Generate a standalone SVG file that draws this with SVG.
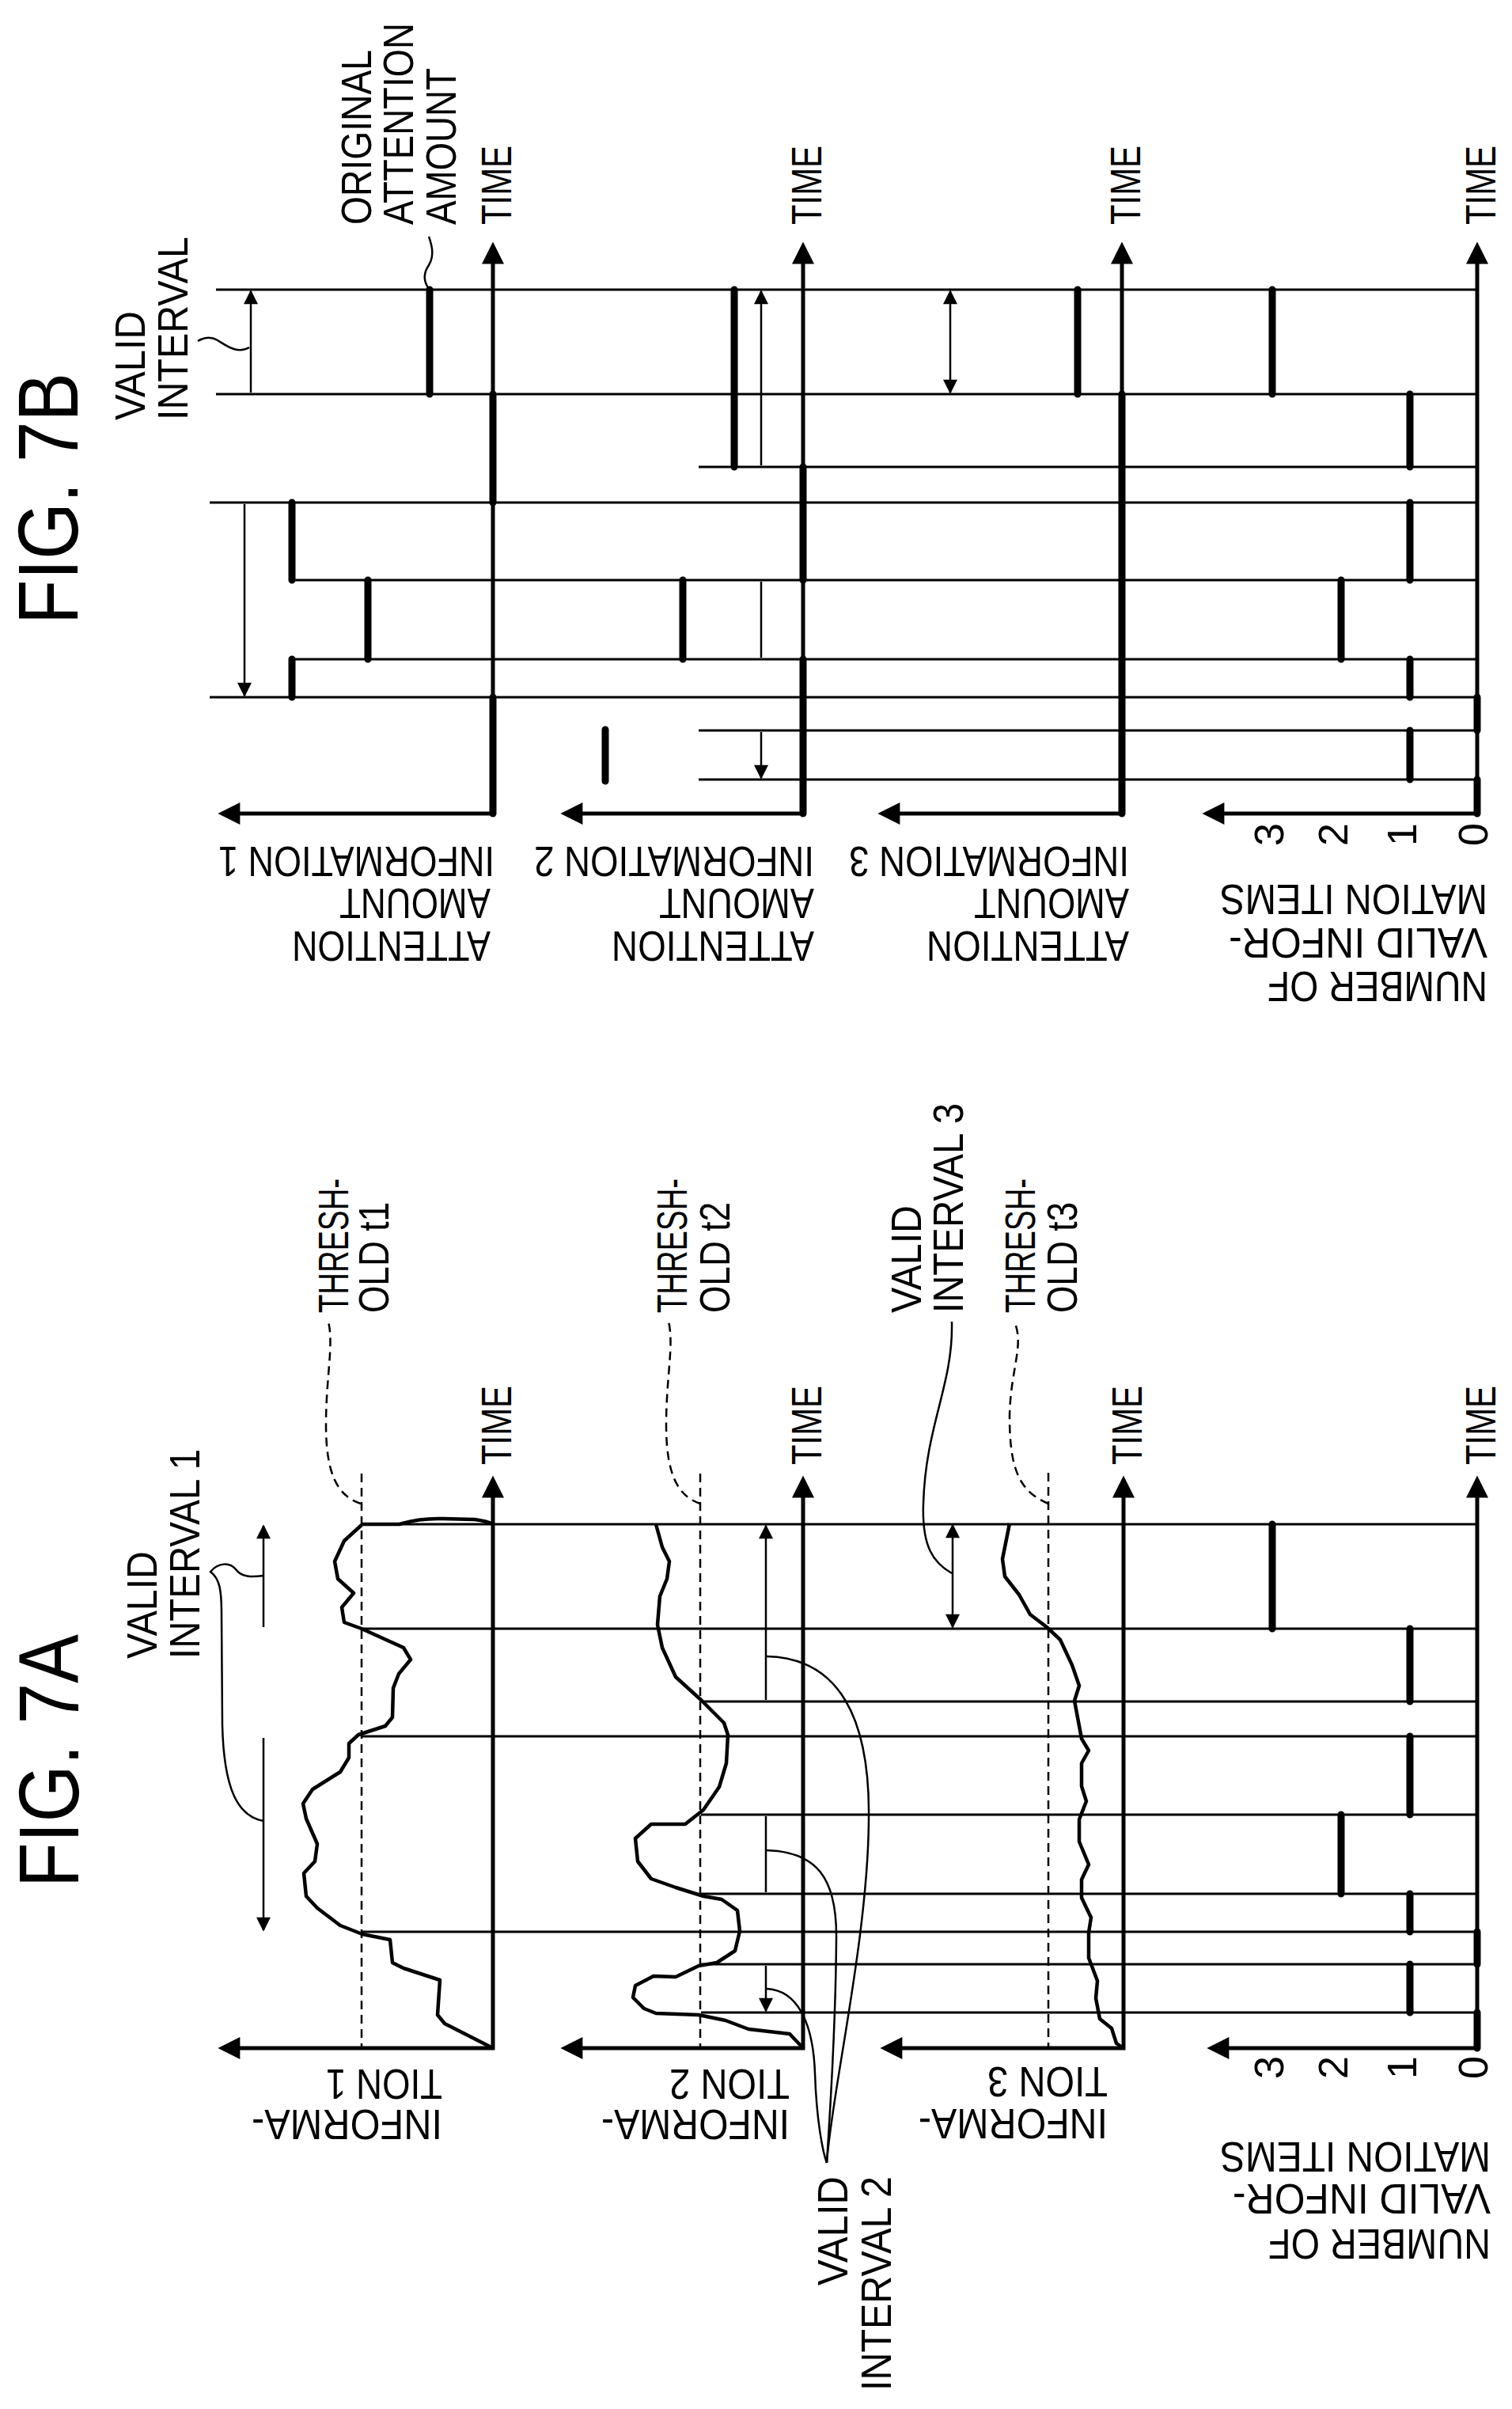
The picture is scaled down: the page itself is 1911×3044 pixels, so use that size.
<svg xmlns="http://www.w3.org/2000/svg" width="1911" height="3044" viewBox="0 0 1911 3044">
<style>
text{font-family:"Liberation Sans",Arial,sans-serif;font-size:54px;fill:#000}
.fig{font-size:108px}
.num{font-size:52px}
.ln{stroke:#000;stroke-width:3;fill:none}
.ax{stroke:#000;stroke-width:5;fill:none;marker-start:url(#big);marker-end:url(#big)}
.bar{stroke:#000;stroke-width:9;stroke-linecap:round;fill:none}
.cv{stroke:#000;stroke-width:4.5;fill:none;stroke-linejoin:round}
.da{stroke:#000;stroke-width:2.5;fill:none;marker-start:url(#sm);marker-end:url(#sm)}
.ld{stroke:#000;stroke-width:2.5;fill:none}
.dl{stroke:#000;stroke-width:2.5;fill:none;stroke-dasharray:11 7}
</style>
<defs>
<marker id="big" viewBox="0 0 10 10" refX="8" refY="5" markerWidth="32" markerHeight="28" markerUnits="userSpaceOnUse" orient="auto-start-reverse"><path d="M0,0 L10,5 L0,10 z"/></marker>
<marker id="sm" viewBox="0 0 10 10" refX="9" refY="5" markerWidth="22" markerHeight="18" markerUnits="userSpaceOnUse" orient="auto-start-reverse"><path d="M0,0 L10,5 L0,10 z"/></marker>
</defs>
<rect width="1911" height="3044" fill="#fff"/>

<g id="fig7b">
<text class="fig" transform="translate(98,789) rotate(-90)" textLength="318" lengthAdjust="spacingAndGlyphs">FIG. 7B</text>
<g id="b-labels">
<text transform="translate(183,531) rotate(-90)" textLength="138" lengthAdjust="spacingAndGlyphs">VALID</text>
<text transform="translate(237,531) rotate(-90)" textLength="232" lengthAdjust="spacingAndGlyphs">INTERVAL</text>
<text transform="translate(469,284) rotate(-90)" textLength="221" lengthAdjust="spacingAndGlyphs">ORIGINAL</text>
<text transform="translate(522,284) rotate(-90)" textLength="255" lengthAdjust="spacingAndGlyphs">ATTENTION</text>
<text transform="translate(576,284) rotate(-90)" textLength="198" lengthAdjust="spacingAndGlyphs">AMOUNT</text>
<path class="ld" d="M315,439 C300,448 285,436 275,430 C265,424 255,428 250,431"/>
<path class="ld" d="M542,365 C535,355 535,345 542,335 C550,322 545,308 542,299"/>
</g>
<g id="b-connectors">
<path class="ln" d="M273,366H1867M273,498H1867M883,590H1867M265,635H1867M369,733H1867M369,833H1867M265,881H1867M883,923H1867M883,985H1867"/>
</g>
<g id="b-info1">
<path class="ax" d="M281,1028H623V311"/>
<text transform="translate(646,284) rotate(-90)" textLength="100" lengthAdjust="spacingAndGlyphs">TIME</text>
<path class="bar" d="M543,366V498M369,635V733M465,733V833M369,833V881M623,498V635M623,881V1028"/>
<path class="da" d="M317,368V496M309,637V879"/>
<text transform="translate(620,1177) rotate(180)" textLength="251" lengthAdjust="spacingAndGlyphs">ATTENTION</text>
<text transform="translate(620,1123) rotate(180)" textLength="191" lengthAdjust="spacingAndGlyphs">AMOUNT</text>
<text transform="translate(625,1070) rotate(180)" textLength="349" lengthAdjust="spacingAndGlyphs">INFORMATION 1</text>
</g>
<g id="b-info2">
<path class="ax" d="M714,1028H1015V311"/>
<text transform="translate(1038,284) rotate(-90)" textLength="100" lengthAdjust="spacingAndGlyphs">TIME</text>
<path class="bar" d="M928,366V590M863,733V833M765,922V987M1015,590V733M1015,833V1028"/>
<path class="da" d="M962,368V588M962,735V831M962,925V983"/>
<text transform="translate(1029,1177) rotate(180)" textLength="256" lengthAdjust="spacingAndGlyphs">ATTENTION</text>
<text transform="translate(1029,1123) rotate(180)" textLength="196" lengthAdjust="spacingAndGlyphs">AMOUNT</text>
<text transform="translate(1029,1070) rotate(180)" textLength="354" lengthAdjust="spacingAndGlyphs">INFORMATION 2</text>
</g>
<g id="b-info3">
<path class="ax" d="M1115,1028H1418V311"/>
<text transform="translate(1441,284) rotate(-90)" textLength="100" lengthAdjust="spacingAndGlyphs">TIME</text>
<path class="bar" d="M1362,366V498M1418,498V1028"/>
<path class="da" d="M1201,368V496"/>
<text transform="translate(1427,1177) rotate(180)" textLength="256" lengthAdjust="spacingAndGlyphs">ATTENTION</text>
<text transform="translate(1427,1123) rotate(180)" textLength="196" lengthAdjust="spacingAndGlyphs">AMOUNT</text>
<text transform="translate(1427,1070) rotate(180)" textLength="354" lengthAdjust="spacingAndGlyphs">INFORMATION 3</text>
</g>
<g id="b-count">
<path class="ax" d="M1525,1028H1867V311"/>
<text transform="translate(1890,284) rotate(-90)" textLength="100" lengthAdjust="spacingAndGlyphs">TIME</text>
<path class="bar" d="M1608,366V498M1782,498V590M1782,635V733M1782,833V881M1782,923V985M1695,733V833M1867,881V923M1867,985V1028"/>
<text class="num" transform="translate(1622,1069) rotate(-90)">3</text>
<text class="num" transform="translate(1703,1069) rotate(-90)">2</text>
<text class="num" transform="translate(1790,1069) rotate(-90)">1</text>
<text class="num" transform="translate(1880,1069) rotate(-90)">0</text>
<text transform="translate(1880,1118) rotate(180)" textLength="338" lengthAdjust="spacingAndGlyphs">MATION ITEMS</text>
<text transform="translate(1880,1173) rotate(180)" textLength="327" lengthAdjust="spacingAndGlyphs">VALID INFOR-</text>
<text transform="translate(1880,1228) rotate(180)" textLength="278" lengthAdjust="spacingAndGlyphs">NUMBER OF</text>
</g>
</g>

<g id="fig7a">
<text class="fig" transform="translate(99,2385) rotate(-90)" textLength="320" lengthAdjust="spacingAndGlyphs">FIG. 7A</text>
<g id="a-labels">
<text transform="translate(198,2096) rotate(-90)" textLength="136" lengthAdjust="spacingAndGlyphs">VALID</text>
<text transform="translate(252,2096) rotate(-90)" textLength="265" lengthAdjust="spacingAndGlyphs">INTERVAL 1</text>
<text transform="translate(440,1659) rotate(-90)" textLength="170" lengthAdjust="spacingAndGlyphs">THRESH-</text>
<text transform="translate(491,1659) rotate(-90)" textLength="140" lengthAdjust="spacingAndGlyphs">OLD t1</text>
<text transform="translate(868,1659) rotate(-90)" textLength="170" lengthAdjust="spacingAndGlyphs">THRESH-</text>
<text transform="translate(922,1659) rotate(-90)" textLength="140" lengthAdjust="spacingAndGlyphs">OLD t2</text>
<text transform="translate(1164,1659) rotate(-90)" textLength="136" lengthAdjust="spacingAndGlyphs">VALID</text>
<text transform="translate(1217,1659) rotate(-90)" textLength="265" lengthAdjust="spacingAndGlyphs">INTERVAL 3</text>
<text transform="translate(1308,1659) rotate(-90)" textLength="170" lengthAdjust="spacingAndGlyphs">THRESH-</text>
<text transform="translate(1361,1659) rotate(-90)" textLength="140" lengthAdjust="spacingAndGlyphs">OLD t3</text>
<text transform="translate(1071,2888) rotate(-90)" textLength="138" lengthAdjust="spacingAndGlyphs">VALID</text>
<text transform="translate(1126,3021) rotate(-90)" textLength="271" lengthAdjust="spacingAndGlyphs">INTERVAL 2</text>
<path class="dl" d="M456,1900 C425,1890 412,1860 412,1800 C412,1740 422,1700 415,1670"/>
<path class="dl" d="M885,1900 C855,1890 842,1860 842,1800 C842,1740 852,1700 845,1670"/>
<path class="dl" d="M1325,1900 C1290,1885 1276,1860 1276,1790 C1277,1730 1295,1700 1282,1670"/>
<path class="ld" d="M333,1991 C318,1993 305,1993 298,1983 C290,1973 275,1975 266,1986 C278,1995 280,2010 280,2040 L281,2180 C283,2260 300,2295 333,2301"/>
<path class="ld" d="M969,2093 C1060,2095 1100,2170 1098,2300 C1097,2450 1050,2650 1045,2733"/>
<path class="ld" d="M969,2338 C1030,2340 1058,2370 1057,2450 C1056,2580 1048,2680 1045,2733"/>
<path class="ld" d="M969,2513 C1010,2515 1028,2560 1030,2620 C1032,2680 1040,2720 1045,2733"/>
<path class="ld" d="M1203,1988 C1180,1975 1165,1955 1167,1900 C1170,1800 1205,1750 1203,1670"/>
</g>
<g id="a-connectors">
<path class="ln" d="M457,1926H1867M457,2058H1867M886,2150H1867M457,2194H1867M886,2293H1867M886,2393H1867M457,2441H1867M886,2482H1867M886,2543H1867"/>
</g>
<g id="a-info1">
<path class="ax" d="M281,2588H623V1870"/>
<text transform="translate(646,1851) rotate(-90)" textLength="100" lengthAdjust="spacingAndGlyphs">TIME</text>
<path class="dl" d="M457,1862V2588"/>
<path class="cv" d="M457,1926 L505,1926 Q530,1918 560,1919 L600,1920 Q615,1922 623,1926"/>
<polyline class="cv" points="457,1927 435,1947 423,1973 427,1995 447,2013 432,2031 435,2050 457,2058 510,2082 519,2097 504,2115 497,2133 496,2170 487,2181 453,2192 441,2203 441,2221 430,2239 395,2261 383,2279 387,2298 401,2330 398,2352 384,2367 387,2396 401,2411 430,2433 458,2444 493,2451 496,2480 510,2487 556,2502 553,2546 562,2557 623,2588"/>
<path class="da" d="M333,1928V2056M333,2196V2439"/>
<text transform="translate(559,2615) rotate(180)" textLength="147" lengthAdjust="spacingAndGlyphs">TION 1</text>
<text transform="translate(559,2666) rotate(180)" textLength="241" lengthAdjust="spacingAndGlyphs">INFORMA-</text>
</g>
<g id="a-info2">
<path class="ax" d="M714,2588H1015V1870"/>
<text transform="translate(1038,1851) rotate(-90)" textLength="100" lengthAdjust="spacingAndGlyphs">TIME</text>
<path class="dl" d="M885,1862V2588"/>
<polyline class="cv" points="829,1926 837,1955 846,1973 843,1995 834,2017 831,2053 837,2082 854,2119 886,2148 915,2177 920,2192 918,2228 909,2258 889,2287 866,2305 823,2305 803,2323 806,2352 823,2374 854,2385 889,2396 912,2400 932,2414 935,2440 929,2465 906,2480 883,2484 854,2498 826,2497 803,2509 800,2524 814,2538 829,2544 883,2546 917,2553 946,2564 998,2570 1015,2588"/>
<path class="da" d="M968,1928V2148M968,2295V2391M968,2484V2541"/>
<text transform="translate(998,2615) rotate(180)" textLength="152" lengthAdjust="spacingAndGlyphs">TION 2</text>
<text transform="translate(998,2666) rotate(180)" textLength="238" lengthAdjust="spacingAndGlyphs">INFORMA-</text>
</g>
<g id="a-info3">
<path class="ax" d="M1118,2588H1420V1870"/>
<text transform="translate(1443,1851) rotate(-90)" textLength="100" lengthAdjust="spacingAndGlyphs">TIME</text>
<path class="dl" d="M1325,1861V2588"/>
<polyline class="cv" points="1276,1925 1267,1970 1270,1992 1288,2015 1302,2040 1323,2056 1340,2072 1355,2104 1364,2130 1358,2149 1367,2197 1376,2212 1367,2228 1367,2257 1373,2276 1364,2299 1364,2327 1376,2356 1367,2375 1367,2398 1379,2423 1376,2442 1376,2474 1387,2503 1385,2525 1390,2551 1405,2563 1411,2582 1420,2588"/>
<path class="da" d="M1204,1927V2056"/>
<text transform="translate(1400,2612) rotate(180)" textLength="152" lengthAdjust="spacingAndGlyphs">TION 3</text>
<text transform="translate(1400,2665) rotate(180)" textLength="239" lengthAdjust="spacingAndGlyphs">INFORMA-</text>
</g>
<g id="a-count">
<path class="ax" d="M1531,2588H1867V1870"/>
<text transform="translate(1890,1851) rotate(-90)" textLength="100" lengthAdjust="spacingAndGlyphs">TIME</text>
<path class="bar" d="M1608,1926V2058M1782,2058V2150M1782,2194V2293M1782,2393V2441M1782,2482V2543M1695,2293V2393M1867,2441V2482M1867,2543V2588"/>
<text class="num" transform="translate(1622,2627) rotate(-90)">3</text>
<text class="num" transform="translate(1703,2627) rotate(-90)">2</text>
<text class="num" transform="translate(1790,2627) rotate(-90)">1</text>
<text class="num" transform="translate(1880,2627) rotate(-90)">0</text>
<text transform="translate(1884,2707) rotate(180)" textLength="342" lengthAdjust="spacingAndGlyphs">MATION ITEMS</text>
<text transform="translate(1884,2760) rotate(180)" textLength="326" lengthAdjust="spacingAndGlyphs">VALID INFOR-</text>
<text transform="translate(1884,2817) rotate(180)" textLength="281" lengthAdjust="spacingAndGlyphs">NUMBER OF</text>
</g>
</g>
</svg>
